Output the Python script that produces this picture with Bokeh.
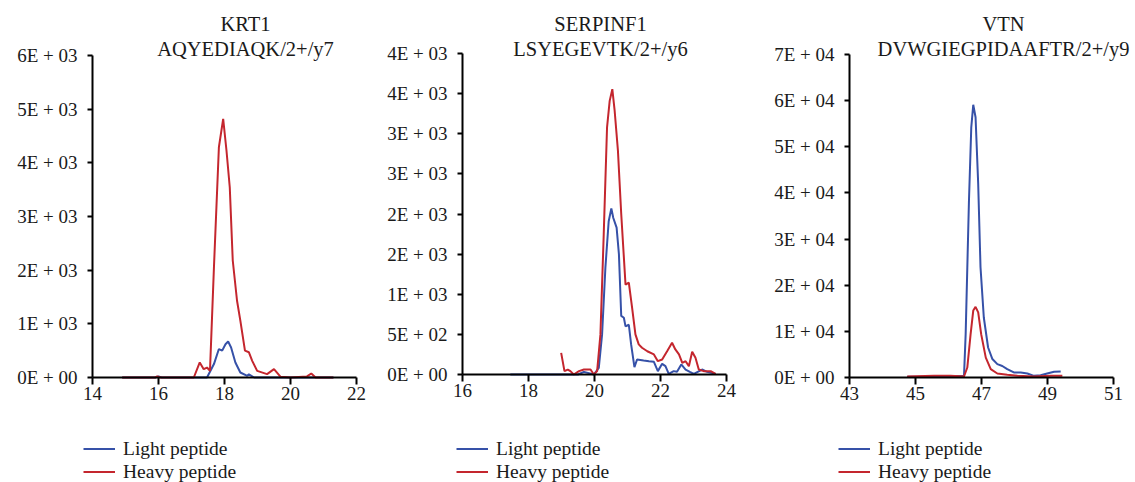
from bokeh.plotting import figure
from bokeh.layouts import row
from bokeh.models import Range1d, FixedTicker, Label, Legend, LegendItem
from bokeh.embed import file_html
from bokeh.resources import INLINE

# ---------------- data ----------------
krt1_title = ["KRT1", "AQYEDIAQK/2+/y7"]
krt1_light_x = [14.9, 15.9, 16.0, 16.1, 17.47, 17.68, 17.83, 17.93, 18.03, 18.11, 18.2, 18.33, 18.48, 18.69, 18.74, 18.9, 21.3]
krt1_light_y = [0, 0, 20, 0, 0, 250, 530, 500, 620, 670, 560, 280, 93, 30, 60, 0, 0]
krt1_heavy_x = [14.9, 15.9, 15.96, 16.06, 17.07, 17.25, 17.37, 17.47, 17.56, 17.68, 17.83, 17.96, 18.06, 18.16, 18.25, 18.38, 18.48, 18.62, 18.74, 18.84, 18.99, 19.29, 19.5, 19.7, 20.0, 20.5, 20.63, 20.76, 21.3]
krt1_heavy_y = [0, 0, 20, 0, 0, 280, 155, 186, 124, 2050, 4290, 4820, 4230, 3540, 2180, 1430, 1060, 500, 470, 310, 124, 62, 155, 12, 0, 20, 75, 0, 0]
krt1_xticks = [14, 16, 18, 20, 22]
krt1_yticks = [0, 1000, 2000, 3000, 4000, 5000, 6000]
krt1_ylabels = ["0E + 00", "1E + 03", "2E + 03", "3E + 03", "4E + 03", "5E + 03", "6E + 03"]

serp_title = ["SERPINF1", "LSYEGEVTK/2+/y6"]
serp_light_x = [17.45, 19.5, 19.68, 19.98, 20.13, 20.23, 20.33, 20.43, 20.51, 20.57, 20.67, 20.74, 20.81, 20.89, 20.94, 21.04, 21.11, 21.21, 21.29, 21.49, 21.65, 21.8, 21.92, 22.05, 22.15, 22.25, 22.4, 22.5, 22.63, 22.76, 22.89, 23.01, 23.26, 23.41, 23.67]
serp_light_y = [0, 0, 33, 0, 83, 500, 1330, 1910, 2070, 1950, 1830, 1500, 730, 707, 600, 620, 375, 91, 187, 175, 166, 158, 42, 133, 104, 8, 42, 33, 125, 62, 33, 8, 62, 33, 8]
serp_heavy_x = [18.99, 19.09, 19.19, 19.27, 19.37, 19.53, 19.68, 19.88, 19.98, 20.08, 20.18, 20.28, 20.38, 20.46, 20.54, 20.61, 20.71, 20.81, 20.94, 21.04, 21.14, 21.24, 21.34, 21.44, 21.6, 21.8, 21.92, 22.05, 22.2, 22.35, 22.45, 22.56, 22.66, 22.76, 22.86, 22.96, 23.06, 23.16, 23.31, 23.52, 23.67]
serp_heavy_y = [270, 42, 62, 42, 0, 42, 62, 62, 0, 42, 500, 1750, 3080, 3410, 3555, 3290, 2790, 2000, 1120, 1145, 830, 500, 375, 333, 290, 250, 166, 187, 290, 395, 312, 250, 145, 166, 104, 283, 208, 62, 42, 42, 8]
serp_xticks = [16, 18, 20, 22, 24]
serp_yticks = [0, 500, 1000, 1500, 2000, 2500, 3000, 3500, 4000]
serp_ylabels = ["0E + 00", "5E + 02", "1E + 03", "2E + 03", "2E + 03", "3E + 03", "3E + 03", "4E + 03", "4E + 03"]

vtn_title = ["VTN", "DVWGIEGPIDAAFTR/2+/y9"]
vtn_light_x = [44.75, 45.5, 46.47, 46.52, 46.62, 46.69, 46.75, 46.82, 46.9, 46.97, 47.07, 47.2, 47.33, 47.48, 47.63, 47.78, 47.98, 48.19, 48.39, 48.59, 48.79, 48.99, 49.2, 49.4]
vtn_light_y = [150, 200, 360, 9400, 38300, 54200, 59100, 56400, 41900, 23900, 13000, 6500, 4000, 2900, 2500, 1800, 1100, 1100, 870, 360, 500, 870, 1230, 1300]
vtn_heavy_x = [44.75, 45.56, 46.06, 46.47, 46.57, 46.67, 46.75, 46.82, 46.9, 46.99, 47.13, 47.28, 47.48, 47.78, 48.09, 48.59, 49.1, 49.45]
vtn_heavy_y = [220, 360, 360, 220, 2170, 9400, 14500, 15300, 14100, 9400, 4300, 1800, 870, 580, 360, 220, 360, 360]
vtn_xticks = [43, 45, 47, 49, 51]
vtn_yticks = [0, 10000, 20000, 30000, 40000, 50000, 60000, 70000]
vtn_ylabels = ["0E + 00", "1E + 04", "2E + 04", "3E + 04", "4E + 04", "5E + 04", "6E + 04", "7E + 04"]

series_names = ["Light peptide", "Heavy peptide"]

# ---------------- style ----------------
FONT = "Liberation Serif"
BLUE = "#3651a8"
RED = "#c4262e"
H = 482


def panel(width, left_px, top_px, bottom_px, xticks, yticks, ylabels, title, light, heavy,
          leg_x, title_cx):
    # the plotting frame covers the whole canvas; axes are pinned at the data origin
    x0, x1 = xticks[0], xticks[-1]
    y0, y1 = yticks[0], yticks[-1]
    px_per_x = 264.0 / (x1 - x0)
    px_per_y = (bottom_px - top_px) / (y1 - y0)
    xr = Range1d(x0 - left_px / px_per_x, x0 + (width - left_px) / px_per_x)
    yr = Range1d(y0 - (H - bottom_px) / px_per_y, y0 + bottom_px / px_per_y)
    p = figure(width=width, height=H, output_backend="svg", toolbar_location=None,
               x_range=xr, y_range=yr, title=None,
               min_border_left=0, min_border_right=0,
               min_border_top=0, min_border_bottom=0)
    p.outline_line_color = None
    p.grid.visible = False
    p.background_fill_color = "white"
    p.border_fill_color = "white"
    for ax in (p.xaxis[0], p.yaxis[0]):
        ax.axis_line_color = "black"
        ax.axis_line_width = 2
        ax.major_tick_line_color = "black"
        ax.major_tick_line_width = 2
        ax.minor_tick_line_color = None
        ax.major_tick_in = 0
        ax.major_label_text_font = FONT
        ax.major_label_text_font_size = "19px"
        ax.major_label_text_color = "#1a1a1a"
    p.xaxis[0].ticker = FixedTicker(ticks=xticks)
    p.xaxis[0].bounds = (x0, x1)
    p.xaxis[0].fixed_location = y0
    p.xaxis[0].major_tick_out = 7
    p.xaxis[0].major_label_standoff = 2
    p.yaxis[0].ticker = FixedTicker(ticks=yticks)
    p.yaxis[0].bounds = (y0, y1)
    p.yaxis[0].fixed_location = x0
    p.yaxis[0].major_tick_out = 5
    p.yaxis[0].major_label_standoff = 10
    p.yaxis[0].major_label_overrides = {t: l for t, l in zip(yticks, ylabels)}

    r1 = p.line(light[0], light[1], line_color=BLUE, line_width=2)
    r2 = p.line(heavy[0], heavy[1], line_color=RED, line_width=2)

    p.add_layout(Label(x=title_cx, y=H - 23, x_units="screen", y_units="screen",
                       text=title[0], text_align="center", text_baseline="middle",
                       text_font=FONT, text_font_size="20.5px", text_color="#1a1a1a"))
    p.add_layout(Label(x=title_cx, y=H - 48, x_units="screen", y_units="screen",
                       text=title[1], text_align="center", text_baseline="middle",
                       text_font=FONT, text_font_size="20.5px", text_color="#1a1a1a"))

    leg = Legend(items=[LegendItem(label=series_names[0], renderers=[r1]),
                        LegendItem(label=series_names[1], renderers=[r2])],
                 location=(leg_x, -1), orientation="vertical",
                 glyph_width=32, glyph_height=23, label_height=23, label_standoff=8,
                 spacing=0, padding=0, margin=0,
                 label_text_font=FONT, label_text_font_size="19.5px",
                 label_text_color="#1a1a1a",
                 background_fill_alpha=0, border_line_color=None)
    p.add_layout(leg)
    return p


p1 = panel(378, 92, 55, 377, krt1_xticks, krt1_yticks, krt1_ylabels,
           krt1_title, (krt1_light_x, krt1_light_y), (krt1_heavy_x, krt1_heavy_y), 83, 245)
p2 = panel(378, 84, 53, 374, serp_xticks, serp_yticks, serp_ylabels,
           serp_title, (serp_light_x, serp_light_y), (serp_heavy_x, serp_heavy_y), 78, 222)
p3 = panel(379, 93, 54, 377, vtn_xticks, vtn_yticks, vtn_ylabels,
           vtn_title, (vtn_light_x, vtn_light_y), (vtn_heavy_x, vtn_heavy_y), 82, 247)

layout = row(p1, p2, p3)
open("out.html", "w").write(file_html(layout, INLINE))
